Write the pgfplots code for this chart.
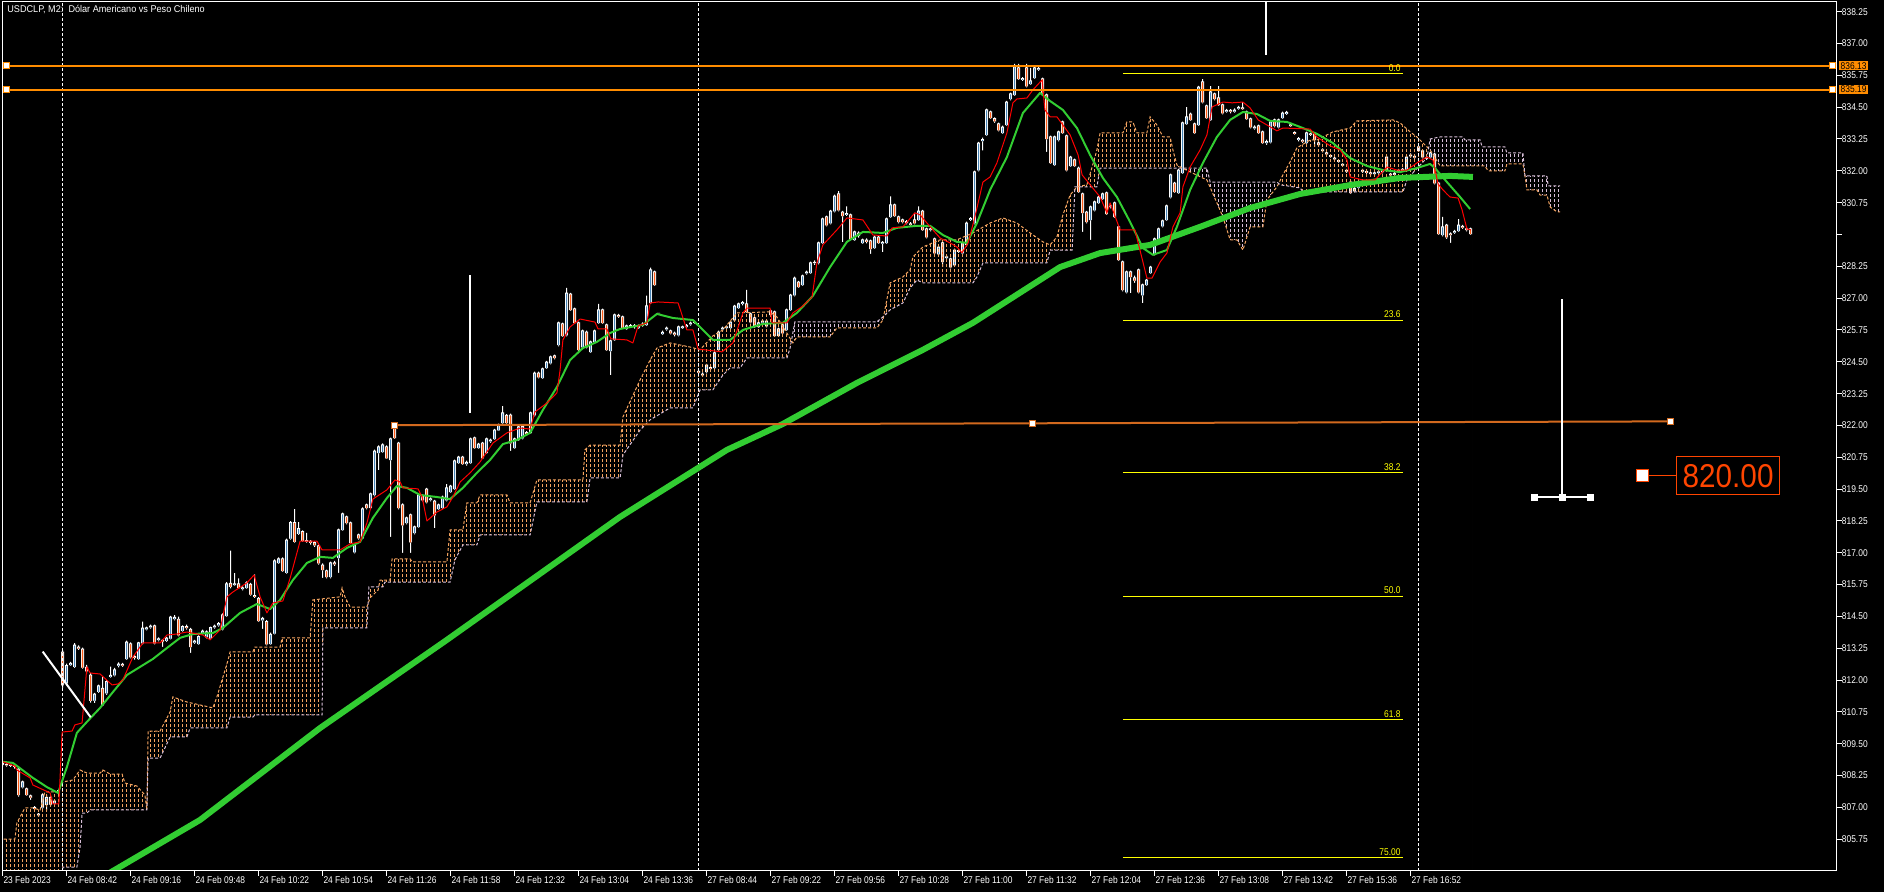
\documentclass[border=0pt]{standalone}
\usepackage{fontspec}
\setmainfont{Liberation Sans}[FakeStretch=0.86]
\newfontfamily\bigfont{Liberation Sans}[FakeStretch=0.9]
\newfontfamily\titlefont{Liberation Sans}[FakeStretch=0.93]
\usepackage{pgfplots}
\pgfplotsset{compat=1.18}
\usepackage{pgfplotstable}
\usetikzlibrary{patterns}
\definecolor{mtbull}{RGB}{70,130,180}
\definecolor{mtbear}{RGB}{255,90,20}
\definecolor{sandy}{RGB}{244,164,96}
\definecolor{thist}{RGB}{216,191,216}
\definecolor{limeg}{RGB}{50,205,50}
\definecolor{dorange}{RGB}{255,140,0}
\definecolor{choc}{RGB}{210,105,30}
\definecolor{ored}{RGB}{255,69,0}
\definecolor{fibyel}{RGB}{255,255,0}
\newcommand\mt{\fontsize{4.9}{5.5}\selectfont}
\pgfdeclarepatternformonly{mtcloud}{\pgfqpoint{-0.1pt}{-0.1pt}}{\pgfqpoint{2.1pt}{2.6pt}}{\pgfqpoint{2pt}{2.5pt}}{%
  \pgfsetlinewidth{0.5pt}%
  \pgfpathmoveto{\pgfqpoint{1pt}{0pt}}%
  \pgfpathlineto{\pgfqpoint{1pt}{1.5pt}}%
  \pgfusepath{stroke}%
}
\pgfplotstableread{
i o h l c
0 808.72 808.80 808.60 808.68
1 808.68 808.75 808.60 808.66
2 808.66 808.72 808.58 808.64
3 808.64 808.70 808.52 808.60
4 808.50 808.56 807.42 807.49
5 807.80 808.05 807.75 808.00
6 807.73 807.78 807.45 807.49
7 807.45 807.50 807.30 807.40
8 806.99 807.05 806.90 806.95
9 806.74 806.78 806.62 806.70
10 807.00 807.55 806.95 807.49
11 807.10 807.50 806.88 807.40
12 807.40 807.45 807.05 807.12
13 807.15 807.30 807.10 807.25
14 807.58 807.70 807.50 807.66
15 813.10 813.18 811.70 811.80
16 811.88 812.65 811.80 812.57
17 812.60 812.72 812.55 812.66
18 812.53 813.45 812.48 813.37
19 813.30 813.36 813.18 813.25
20 813.22 813.28 812.45 812.50
21 812.50 812.60 812.25 812.35
22 812.20 812.28 811.12 811.19
23 811.20 811.50 811.10 811.45
24 811.55 811.82 811.50 811.77
25 811.68 812.13 810.98 811.02
26 811.49 812.00 811.42 811.94
27 812.14 812.53 812.10 812.19
28 812.20 812.48 812.15 812.40
29 812.58 812.70 812.50 812.63
30 812.62 812.68 812.52 812.58
31 812.83 813.55 812.78 813.49
32 813.42 813.48 812.85 812.90
33 812.92 813.00 812.80 812.88
34 812.83 813.50 812.78 813.46
35 813.45 814.30 813.40 814.04
36 814.00 814.10 813.95 814.05
37 814.08 814.18 814.02 814.12
38 814.13 814.18 813.40 813.45
39 813.58 813.68 813.52 813.62
40 813.56 813.60 813.31 813.52
41 813.55 813.70 813.50 813.65
42 813.64 814.52 813.60 814.47
43 814.40 814.55 814.35 814.46
44 814.39 814.49 813.72 813.77
45 813.94 814.15 813.90 814.10
46 814.10 814.18 813.98 814.05
47 813.99 814.05 813.07 813.31
48 813.48 813.58 813.42 813.53
49 813.42 813.76 813.38 813.71
50 813.86 813.98 813.80 813.92
51 813.69 813.95 813.64 813.89
52 813.64 814.10 813.60 814.06
53 814.08 814.18 814.02 814.12
54 814.16 814.28 814.10 814.22
55 814.00 814.62 813.95 814.56
56 814.52 815.85 814.48 815.78
57 815.80 817.08 815.60 815.67
58 815.74 816.20 815.70 815.78
59 815.78 816.00 815.58 815.62
60 815.58 815.68 815.52 815.62
61 815.62 815.88 815.58 815.82
62 815.76 815.82 815.32 815.37
63 815.32 816.15 815.22 815.28
64 815.21 815.26 814.28 814.33
65 814.36 814.48 814.01 814.42
66 814.30 814.36 813.36 813.41
67 813.42 813.86 813.38 813.80
68 813.84 816.74 813.80 816.68
69 816.60 816.82 816.55 816.76
70 816.76 816.82 816.24 816.29
71 816.22 817.56 816.18 817.50
72 817.57 818.24 817.52 818.18
73 818.18 818.71 817.40 817.44
74 817.75 818.20 817.70 817.95
75 817.83 817.88 817.44 817.48
76 817.48 817.78 817.40 817.45
77 817.45 817.50 817.32 817.40
78 817.40 817.45 817.22 817.30
79 817.27 817.32 816.54 816.59
80 816.52 816.58 816.01 816.33
81 816.29 816.34 816.00 816.05
82 816.05 816.65 816.00 816.60
83 816.60 816.68 816.48 816.55
84 816.80 817.95 816.21 817.90
85 817.90 818.58 817.86 818.53
86 818.41 818.46 818.12 818.17
87 818.17 818.22 817.34 817.39
88 817.03 817.35 816.98 817.30
89 817.70 817.75 817.52 817.58
90 817.58 818.78 817.54 818.72
91 818.88 818.93 818.70 818.76
92 818.76 819.36 818.72 819.31
93 819.27 821.05 819.22 820.99
94 820.92 821.22 820.25 821.16
95 820.96 821.30 820.92 821.24
96 821.16 821.22 820.68 820.72
97 820.65 821.52 817.62 821.47
98 821.94 822.10 821.46 821.51
99 821.31 821.36 818.70 818.76
100 818.88 818.94 817.00 818.09
101 818.17 818.42 818.12 818.37
102 818.49 818.54 817.00 817.42
103 817.78 818.07 817.72 818.02
104 818.02 819.32 817.98 819.27
105 819.23 819.28 819.02 819.07
106 819.50 819.55 818.94 818.99
107 819.08 819.18 819.02 819.12
108 819.03 819.08 817.97 818.48
109 818.72 818.93 818.68 818.88
110 818.76 819.24 818.72 819.19
111 819.07 819.70 819.02 819.55
112 819.39 819.67 819.34 819.62
113 819.51 820.66 819.46 820.61
114 820.53 820.81 820.48 820.76
115 820.76 820.81 820.44 820.49
116 820.49 820.62 820.42 820.55
117 820.53 821.52 820.48 821.47
118 821.51 821.56 821.08 821.12
119 821.12 821.32 821.08 821.27
120 821.31 821.36 820.68 820.72
121 820.92 821.52 820.88 821.47
122 821.38 821.48 821.32 821.42
123 821.47 821.87 821.42 821.82
124 821.82 822.07 821.78 822.02
125 822.10 822.76 822.05 822.49
126 822.40 822.45 822.05 822.10
127 822.41 822.46 821.00 821.31
128 821.12 821.52 821.08 821.47
129 821.43 821.99 821.38 821.94
130 821.50 822.00 821.45 821.95
131 821.72 821.78 821.62 821.68
132 821.71 822.54 821.66 822.49
133 822.41 824.11 822.36 824.06
134 824.06 824.11 823.85 823.90
135 823.87 824.27 823.82 824.22
136 824.26 824.54 824.21 824.49
137 824.45 824.74 824.40 824.69
138 824.73 824.78 824.60 824.65
139 825.16 826.08 825.11 826.03
140 825.99 826.04 825.47 825.52
141 825.55 827.40 825.50 827.20
142 827.16 827.21 826.49 826.54
143 826.58 826.63 825.98 826.03
144 826.03 826.08 824.92 824.97
145 825.08 825.76 825.03 825.71
146 825.67 825.72 825.03 825.08
147 824.89 825.33 824.84 825.28
148 825.28 825.76 825.23 825.71
149 826.03 826.77 825.98 826.54
150 826.54 826.59 825.98 826.03
151 825.95 826.00 824.92 824.97
152 824.93 825.37 823.98 825.32
153 825.36 826.39 825.31 826.34
154 826.32 826.38 826.22 826.28
155 826.26 826.31 825.78 825.83
156 825.79 825.96 825.74 825.91
157 825.88 825.98 825.82 825.92
158 825.92 825.98 825.80 825.88
159 825.83 825.96 825.78 825.91
160 825.92 826.05 825.88 825.98
161 825.95 827.10 825.90 826.70
162 826.81 828.20 826.76 828.11
163 828.03 828.08 827.47 827.52
164 826.40 826.40 826.40 826.40
165 825.60 825.72 825.55 825.66
166 825.78 825.88 825.72 825.82
167 825.71 825.76 825.58 825.63
168 825.63 825.68 825.50 825.58
169 825.55 825.92 825.50 825.87
170 825.83 825.92 825.78 825.87
171 825.88 825.98 825.82 825.92
172 825.98 826.08 825.92 826.02
173 826.04 826.12 826.00 826.06
174 824.12 824.18 824.02 824.08
175 824.02 824.08 823.92 823.98
176 824.10 824.42 824.05 824.37
177 824.27 824.32 824.18 824.23
178 824.26 824.90 824.21 824.85
179 824.97 825.72 824.92 825.67
180 825.78 825.88 825.72 825.82
181 825.83 825.92 825.78 825.87
182 825.83 826.11 825.78 826.06
183 826.14 826.74 826.09 826.69
184 826.62 826.82 826.57 826.77
185 826.78 826.88 826.72 826.82
186 826.77 827.32 826.41 826.46
187 826.38 826.43 826.01 826.06
188 826.22 826.27 825.82 825.87
189 825.87 826.08 825.82 826.03
190 826.05 826.15 826.00 826.10
191 825.90 826.15 825.85 826.10
192 826.50 826.55 826.29 826.34
193 826.46 826.51 825.47 825.52
194 825.52 825.84 825.47 825.79
195 825.95 826.00 825.58 825.63
196 825.75 826.59 825.70 826.54
197 826.54 827.17 826.49 827.12
198 827.12 827.84 827.07 827.79
199 827.63 827.68 827.39 827.44
200 827.52 827.92 827.47 827.87
201 827.98 828.08 827.92 828.02
202 827.99 828.43 827.94 828.38
203 828.38 828.48 828.30 828.40
204 828.38 829.22 828.33 829.17
205 829.17 830.16 829.12 830.11
206 830.19 830.24 829.82 829.87
207 829.95 830.47 829.90 830.42
208 830.42 831.06 830.37 831.01
209 831.09 831.20 830.41 830.46
210 830.38 830.43 829.20 830.23
211 830.28 830.60 830.22 830.32
212 830.27 830.32 829.28 829.33
213 829.29 829.65 829.24 829.60
214 829.55 829.62 829.38 829.45
215 829.17 829.34 829.12 829.29
216 829.28 829.35 829.15 829.22
217 829.25 829.30 828.74 828.93
218 828.97 829.45 828.92 829.40
219 829.40 829.45 829.12 829.17
220 829.15 829.24 828.81 829.19
221 829.17 830.16 829.12 830.11
222 830.19 831.00 830.14 830.66
223 830.66 830.71 830.18 830.23
224 830.19 830.24 829.94 829.99
225 830.07 830.12 829.94 829.99
226 830.00 830.06 829.90 829.96
227 829.92 829.98 829.82 829.88
228 830.07 830.35 829.90 829.95
229 830.07 830.60 830.02 830.42
230 830.42 830.47 829.63 829.68
231 829.72 829.77 829.35 829.40
232 829.68 829.78 829.62 829.72
233 829.33 829.38 828.72 828.77
234 828.73 829.05 828.68 829.00
235 829.17 829.22 828.22 828.42
236 828.58 828.68 828.52 828.62
237 828.54 828.59 828.17 828.22
238 828.30 828.94 828.25 828.89
239 828.83 828.93 828.78 828.87
240 828.77 829.22 828.72 829.17
241 829.09 830.00 829.04 829.95
242 830.08 830.18 830.02 830.12
243 829.95 832.01 829.90 831.96
244 832.03 833.14 831.98 833.09
245 833.18 833.30 832.80 833.22
246 833.41 834.44 833.36 834.39
247 834.31 834.36 834.03 834.08
248 834.05 834.10 833.88 833.95
249 833.84 833.89 833.55 833.60
250 833.49 833.77 833.44 833.72
251 833.80 834.75 833.75 834.70
252 834.82 835.07 834.77 835.02
253 834.98 836.20 834.93 836.08
254 836.04 836.20 835.56 835.61
255 835.58 835.68 835.52 835.62
256 836.04 836.20 835.28 835.33
257 835.41 836.04 835.36 835.53
258 835.65 836.09 835.60 836.04
259 835.98 836.10 835.92 836.02
260 835.61 835.66 835.01 835.06
261 834.98 835.03 832.74 833.25
262 833.33 833.38 832.26 832.31
263 832.23 833.38 832.18 833.33
264 833.21 833.58 833.16 833.53
265 833.92 833.97 833.44 833.49
266 833.37 833.42 831.98 832.03
267 832.19 832.59 832.14 832.54
268 832.43 832.48 832.14 832.19
269 832.11 832.16 831.12 831.17
270 831.09 831.14 829.60 830.35
271 830.38 830.43 829.94 829.99
272 830.07 830.63 829.29 830.58
273 830.46 830.83 830.41 830.78
274 830.74 831.02 830.69 830.97
275 830.90 831.14 830.85 831.09
276 831.13 831.18 830.26 830.31
277 830.58 830.68 830.52 830.62
278 830.74 830.79 830.14 830.19
279 829.80 829.85 828.45 828.50
280 828.42 828.47 827.27 827.32
281 827.24 828.08 827.19 828.03
282 828.03 828.08 827.20 827.83
283 827.80 827.88 827.60 827.70
284 828.11 828.16 827.19 827.24
285 827.12 827.57 826.80 827.52
286 827.52 827.76 827.47 827.71
287 827.99 828.27 827.94 828.22
288 828.73 829.38 828.68 829.33
289 829.29 829.77 829.24 829.72
290 829.83 830.08 829.78 830.03
291 830.07 830.67 830.02 830.62
292 830.97 831.89 830.92 831.84
293 831.52 831.57 831.12 831.17
294 831.13 832.08 831.08 832.03
295 831.92 833.93 831.87 833.88
296 833.84 834.50 833.79 834.12
297 834.23 834.28 833.95 834.00
298 833.84 833.89 833.44 833.49
299 833.80 835.34 833.75 835.29
300 835.49 835.60 834.65 834.70
301 834.55 834.60 834.03 834.08
302 834.00 835.33 833.95 835.10
303 835.02 835.07 834.77 834.82
304 834.86 835.33 834.54 834.59
305 834.59 834.64 834.22 834.27
306 834.33 834.43 834.28 834.37
307 834.37 834.42 834.26 834.33
308 834.33 834.45 834.28 834.38
309 834.45 834.55 834.40 834.49
310 834.47 834.70 834.38 834.43
311 834.31 834.36 833.99 834.04
312 834.04 834.09 833.67 833.72
313 833.68 833.78 833.62 833.72
314 833.76 833.81 833.44 833.49
315 833.53 833.58 833.05 833.10
316 833.10 833.22 833.02 833.15
317 833.13 833.97 833.08 833.92
318 834.00 834.05 833.71 833.76
319 833.72 834.05 833.67 834.00
320 834.08 834.32 834.03 834.27
321 834.25 834.35 834.20 834.29
322 833.80 833.85 833.72 833.76
323 833.50 833.55 833.42 833.46
324 833.22 833.32 833.16 833.26
325 833.20 833.25 833.10 833.16
326 833.10 833.54 833.05 833.49
327 833.45 833.50 833.36 833.42
328 833.45 833.50 832.94 833.21
329 833.10 833.15 832.95 833.02
330 832.82 832.88 832.72 832.78
331 832.70 832.74 832.62 832.66
332 832.60 832.64 832.52 832.56
333 832.50 832.54 832.42 832.46
334 832.40 832.44 832.32 832.36
335 832.25 832.29 832.17 832.21
336 832.02 832.08 831.92 831.98
337 831.56 831.61 831.08 831.13
338 831.20 831.36 831.15 831.30
339 831.35 831.52 831.30 831.45
340 831.98 832.08 831.92 832.02
341 831.97 832.02 831.88 831.93
342 831.92 831.96 831.82 831.88
343 831.88 831.98 831.82 831.92
344 831.92 832.02 831.86 831.96
345 831.96 832.06 831.90 832.00
346 832.54 832.59 831.98 832.03
347 831.87 831.92 831.78 831.83
348 831.85 831.96 831.80 831.90
349 831.98 832.08 831.92 832.02
350 832.02 832.12 831.96 832.06
351 832.03 832.59 831.98 832.54
352 832.58 832.68 832.52 832.62
353 832.57 832.62 832.48 832.53
354 832.94 832.99 832.73 832.78
355 832.78 832.83 832.49 832.54
356 832.52 832.58 832.42 832.48
357 832.54 832.75 832.49 832.70
358 832.66 832.71 831.47 831.52
359 831.52 831.57 829.47 829.52
360 829.48 830.19 829.43 829.80
361 829.87 829.92 829.33 829.40
362 829.52 829.58 829.17 829.48
363 829.58 829.68 829.52 829.62
364 829.64 830.10 829.59 829.87
365 829.82 829.88 829.72 829.78
366 829.72 829.78 829.62 829.68
367 829.72 829.77 829.47 829.52
}\candles
\pgfplotsset{candlebar/.style={ybar, bar shift=0pt, draw=none, forget plot}}
\begin{document}
\begin{tikzpicture}
\useasboundingbox (0,0) rectangle (942pt,446pt);
\fill[black] (0,0) rectangle (942pt,446pt);
\begin{axis}[
  at={(1pt,445pt)}, anchor=north west,
  scale only axis, width=917.25pt, height=434.5pt,
  xmin=-0.125, xmax=458.5, ymin=804.5055, ymax=838.631,
  axis line style={white, line width=0.5pt},
  axis on top,
  clip mode=individual,
  tick align=outside, major tick length=2.5pt,
  xtick pos=left, ytick pos=right,
  tick style={white, line width=0.5pt},
  xtick={0,16,32,48,64,80,96,112,128,144,160,176,192,208,224,240,256,272,288,304,320,336,352},
  xticklabels={23 Feb 2023,24 Feb 08:42,24 Feb 09:16,24 Feb 09:48,24 Feb 10:22,24 Feb 10:54,24 Feb 11:26,24 Feb 11:58,24 Feb 12:32,24 Feb 13:04,24 Feb 13:36,27 Feb 08:44,27 Feb 09:22,27 Feb 09:56,27 Feb 10:28,27 Feb 11:00,27 Feb 11:32,27 Feb 12:04,27 Feb 12:36,27 Feb 13:08,27 Feb 13:42,27 Feb 15:36,27 Feb 16:52},
  ytick={805.75,807,808.25,809.5,810.75,812,813.25,814.5,815.75,817,818.25,819.5,820.75,822,823.25,824.5,825.75,827,828.25,829.5,830.75,832,833.25,834.5,835.75,837,838.25},
  yticklabels={805.75,807.00,808.25,809.50,810.75,812.00,813.25,814.50,815.75,817.00,818.25,819.50,820.75,822.00,823.25,824.50,825.75,827.00,828.25,{},830.75,832.00,833.25,834.50,835.75,837.00,838.25},
  ticklabel style={font=\mt, text=white},
  xticklabel style={anchor=north west, inner sep=0pt, xshift=0.3pt},
  yticklabel style={anchor=west, inner sep=0pt},
]
% --- candles (layered bars: upper wick, white body outline, black masks, fills, lower wick)
\addplot[candlebar, fill=white, bar width=0.5pt] table[x=i, y=h] {\candles};
\addplot[candlebar, fill=white, bar width=1.5pt] table[x=i, y expr={max(\thisrow{o},\thisrow{c})+0.0196}] {\candles};
\addplot[candlebar, fill=black, bar width=2pt] table[x=i, y expr={min(\thisrow{o},\thisrow{c})-0.0196}] {\candles};
\addplot[candlebar, fill=mtbull, bar width=0.5pt] table[x=i, y expr={max(\thisrow{o},\thisrow{c})-0.0196}] {\candles};
\addplot[candlebar, fill=mtbear, bar width=0.65pt] table[x=i, y expr={\thisrow{o}-0.0196-100*(\thisrow{c}>\thisrow{o})}] {\candles};
\addplot[candlebar, fill=black, bar width=2pt] table[x=i, y expr={min(\thisrow{o},\thisrow{c})-0.0196}] {\candles};
\addplot[candlebar, fill=white, bar width=0.5pt] table[x=i, y expr={min(\thisrow{o},\thisrow{c})-0.0196}] {\candles};
\addplot[candlebar, fill=black, bar width=2pt] table[x=i, y=l] {\candles};
% --- Ichimoku cloud hatch (polygons between Senkou A and Senkou B)
\addplot[pattern=mtcloud, pattern color=sandy, draw=none, forget plot] coordinates {
(-1,805.76) (3.1,805.76) (3.6,806.39) (5.6,806.98) (7.6,806.98) (9.4,806.90) (10.6,807.61) (13.9,807.61) (15.1,808.00) (17.6,808.08) (19.4,808.47) (21.1,808.35) (24.4,808.35) (25.1,808.47) (26.9,808.31) (29.9,808.31) (30.6,807.96) (33.6,807.84) (35.6,807.49) (36.1,806.90) (36.4,810.00) (39.4,810.00) (41.9,810.75) (42.6,811.34) (46.1,811.14) (52.6,810.91) (53.6,811.34) (56.4,812.79) (56.9,813.11) (62.6,813.11) (63.1,813.30) (69.4,813.30) (69.9,813.66) (76.9,813.66) (77.6,815.15) (84.4,815.27) (84.9,815.62) (85.6,815.27) (86.9,814.87) (91.1,814.87) (91.9,815.23) (93.9,815.54) (94.4,815.93) (96.9,815.93) (97.4,816.76) (101.9,816.76) (102.4,816.64) (111.1,816.64) (111.9,817.90) (115.1,817.90) (116.1,818.96) (118.6,818.96) (119.4,819.27) (126.1,819.27) (126.9,818.96) (131.9,818.96) (133.6,819.86) (145.1,819.86) (145.6,821.04) (146.9,821.23) (154.4,821.23) (155.1,822.33) (159.4,823.79) (161.9,824.57) (163.6,825.04) (166.9,825.24) (171.9,825.08) (174.4,824.97) (177.6,825.52) (180.1,825.75) (183.6,826.42) (191.9,826.46) (193.6,826.26) (195.6,825.75) (197.24,825.33)
(196.9,825.04) (196.1,824.65) (186.1,824.65) (184.4,824.26) (181.9,824.26) (180.1,823.98) (177.6,823.40) (174.4,823.40) (172.6,822.69) (166.9,822.69) (161.9,822.22) (159.4,821.82) (155.1,820.84) (154.4,819.94) (146.9,819.94) (146.1,819.00) (133.6,819.00) (131.9,817.70) (119.4,817.70) (118.6,817.31) (115.1,817.31) (113.1,816.72) (111.9,815.85) (95.6,815.85) (95.1,815.66) (91.6,815.66) (91.1,814.05) (80.1,814.05) (79.9,810.63) (63.1,810.63) (62.6,810.55) (56.9,810.55) (56.1,810.12) (46.9,810.12) (46.1,809.77) (41.9,809.77) (39.4,808.94) (36.4,808.94) (36.1,806.90) (21.9,806.90) (21.1,806.78) (19.9,806.78) (19.4,805.45) (18.6,804.66) (15.1,804.66) (14.9,804.15) (-1,804.15)};
\addplot[pattern=mtcloud, pattern color=thist, draw=none, forget plot] coordinates {
(197.24,825.33) (197.6,825.24) (198.6,825.48) (206.9,825.48) (208.6,825.83) (218.6,825.83) (220.1,826.14) (220.28,826.19)
(220.1,826.26) (218.6,826.07) (198.1,826.07)};
\addplot[pattern=mtcloud, pattern color=sandy, draw=none, forget plot] coordinates {
(220.28,826.19) (221.9,827.60) (225.1,827.83) (226.9,828.11) (227.6,828.62) (230.1,829.01) (234.4,829.29) (238.6,829.29) (242.6,829.56) (246.9,829.95) (250.1,830.15) (253.6,829.95) (256.9,829.56) (260.1,829.21) (261.9,829.09) (263.6,829.40) (265.1,830.27) (266.9,831.05) (268.6,831.37) (271.1,831.45) (272.4,832.15) (273.6,832.82) (274.4,833.49) (280.1,833.49) (281.1,833.92) (282.6,833.92) (283.6,833.49) (286.1,833.49) (286.9,834.12) (288.6,833.80) (290.1,833.33) (291.9,833.33) (292.6,832.82) (293.6,832.23) (294.9,832.11)
(274.4,832.11) (273.6,831.37) (268.1,831.37) (267.4,828.89) (261.9,828.89) (261.1,828.38) (245.1,828.38) (243.6,827.83) (242.6,827.60) (230.1,827.60) (228.6,827.71) (226.9,827.40) (225.1,826.81) (221.9,826.54)};
\addplot[pattern=mtcloud, pattern color=thist, draw=none, forget plot] coordinates {
(294.9,832.11) (301.1,831.64) (303.6,830.74) (305.1,830.19) (306.9,829.29) (308.6,829.29) (310.1,828.89) (311.9,829.80) (315.1,829.80) (316.1,830.86) (318.6,831.37) (319.02,831.50)
(318.6,831.56) (301.9,831.56) (301.1,832.11)};
\addplot[pattern=mtcloud, pattern color=sandy, draw=none, forget plot] coordinates {
(319.02,831.50) (320.1,831.84) (321.9,832.35) (323.6,832.90) (326.9,833.21) (328.6,833.21) (332.6,833.53) (336.9,833.68) (338.6,833.96) (347.6,834.00) (349.4,833.88) (351.9,833.53) (353.6,833.33) (356.1,832.94) (356.5,832.88)
(356.1,832.50) (354.4,832.23) (352.6,831.92) (351.1,831.64) (350.1,831.17) (325.1,831.17) (324.4,831.33) (319.4,831.45)};
\addplot[pattern=mtcloud, pattern color=thist, draw=none, forget plot] coordinates {
(356.5,832.88) (356.9,832.82) (359.4,832.19) (370.6,832.19) (371.4,832.00) (375.6,832.00) (376.1,832.27) (380.1,832.27) (380.6,831.84) (381.1,831.25) (383.6,831.25) (384.4,831.05) (386.1,831.05) (386.9,830.58) (388.6,830.39) (389.4,830.39)
(389.4,831.41) (386.4,831.41) (386.1,831.80) (380.6,831.80) (380.1,832.70) (376.1,832.70) (375.6,832.94) (369.9,832.94) (369.4,833.21) (365.6,833.21) (365.1,833.33) (359.4,833.33) (356.9,833.25)};
% --- cloud edges
\addplot[sandy, line width=0.5pt, dash pattern=on 1.5pt off 1pt, forget plot] coordinates {
(-1,805.76) (3.1,805.76) (3.6,806.39) (5.6,806.98) (7.6,806.98) (9.4,806.90) (10.6,807.61) (13.9,807.61) (15.1,808.00) (17.6,808.08) (19.4,808.47) (21.1,808.35) (24.4,808.35) (25.1,808.47) (26.9,808.31) (29.9,808.31) (30.6,807.96) (33.6,807.84) (35.6,807.49) (36.1,806.90) (36.4,810.00) (39.4,810.00) (41.9,810.75) (42.6,811.34) (46.1,811.14) (52.6,810.91) (53.6,811.34) (56.4,812.79) (56.9,813.11) (62.6,813.11) (63.1,813.30) (69.4,813.30) (69.9,813.66) (76.9,813.66) (77.6,815.15) (84.4,815.27) (84.9,815.62) (85.6,815.27) (86.9,814.87) (91.1,814.87) (91.9,815.23) (93.9,815.54) (94.4,815.93) (96.9,815.93) (97.4,816.76) (101.9,816.76) (102.4,816.64) (111.1,816.64) (111.9,817.90) (115.1,817.90) (116.1,818.96) (118.6,818.96) (119.4,819.27) (126.1,819.27) (126.9,818.96) (131.9,818.96) (133.6,819.86) (145.1,819.86) (145.6,821.04) (146.9,821.23) (154.4,821.23) (155.1,822.33) (159.4,823.79) (161.9,824.57) (163.6,825.04) (166.9,825.24) (171.9,825.08) (174.4,824.97) (177.6,825.52) (180.1,825.75) (183.6,826.42) (191.9,826.46) (193.6,826.26) (195.6,825.75) (197.6,825.24) (198.6,825.48) (206.9,825.48) (208.6,825.83) (218.6,825.83) (220.1,826.14) (221.9,827.60) (225.1,827.83) (226.9,828.11) (227.6,828.62) (230.1,829.01) (234.4,829.29) (238.6,829.29) (242.6,829.56) (246.9,829.95) (250.1,830.15) (253.6,829.95) (256.9,829.56) (260.1,829.21) (261.9,829.09) (263.6,829.40) (265.1,830.27) (266.9,831.05) (268.6,831.37) (271.1,831.45) (272.4,832.15) (273.6,832.82) (274.4,833.49) (280.1,833.49) (281.1,833.92) (282.6,833.92) (283.6,833.49) (286.1,833.49) (286.9,834.12) (288.6,833.80) (290.1,833.33) (291.9,833.33) (292.6,832.82) (293.6,832.23) (294.9,832.11) (301.1,831.64) (303.6,830.74) (305.1,830.19) (306.9,829.29) (308.6,829.29) (310.1,828.89) (311.9,829.80) (315.1,829.80) (316.1,830.86) (318.6,831.37) (320.1,831.84) (321.9,832.35) (323.6,832.90) (326.9,833.21) (328.6,833.21) (332.6,833.53) (336.9,833.68) (338.6,833.96) (347.6,834.00) (349.4,833.88) (351.9,833.53) (353.6,833.33) (356.1,832.94) (356.9,832.82) (359.4,832.19) (370.6,832.19) (371.4,832.00) (375.6,832.00) (376.1,832.27) (380.1,832.27) (380.6,831.84) (381.1,831.25) (383.6,831.25) (384.4,831.05) (386.1,831.05) (386.9,830.58) (388.6,830.39) (389.4,830.39)};
\addplot[thist, line width=0.5pt, dash pattern=on 1.5pt off 1pt, forget plot] coordinates {
(-1,804.15) (14.9,804.15) (15.1,804.66) (18.6,804.66) (19.4,805.45) (19.9,806.78) (21.1,806.78) (21.9,806.90) (36.1,806.90) (36.4,808.94) (39.4,808.94) (41.9,809.77) (46.1,809.77) (46.9,810.12) (56.1,810.12) (56.9,810.55) (62.6,810.55) (63.1,810.63) (79.9,810.63) (80.1,814.05) (91.1,814.05) (91.6,815.66) (95.1,815.66) (95.6,815.85) (111.9,815.85) (113.1,816.72) (115.1,817.31) (118.6,817.31) (119.4,817.70) (131.9,817.70) (133.6,819.00) (146.1,819.00) (146.9,819.94) (154.4,819.94) (155.1,820.84) (159.4,821.82) (161.9,822.22) (166.9,822.69) (172.6,822.69) (174.4,823.40) (177.6,823.40) (180.1,823.98) (181.9,824.26) (184.4,824.26) (186.1,824.65) (196.1,824.65) (196.9,825.04) (198.1,826.07) (218.6,826.07) (220.1,826.26) (221.9,826.54) (225.1,826.81) (226.9,827.40) (228.6,827.71) (230.1,827.60) (242.6,827.60) (243.6,827.83) (245.1,828.38) (261.1,828.38) (261.9,828.89) (267.4,828.89) (268.1,831.37) (273.6,831.37) (274.4,832.11) (301.1,832.11) (301.9,831.56) (318.6,831.56) (319.4,831.45) (324.4,831.33) (325.1,831.17) (350.1,831.17) (351.1,831.64) (352.6,831.92) (354.4,832.23) (356.1,832.50) (356.9,833.25) (359.4,833.33) (365.1,833.33) (365.6,833.21) (369.4,833.21) (369.9,832.94) (375.6,832.94) (376.1,832.70) (380.1,832.70) (380.6,831.80) (386.1,831.80) (386.4,831.41) (389.4,831.41)};
% --- period separators
\addplot[white, line width=0.5pt, dash pattern=on 1.5pt off 1pt, forget plot] coordinates {(15,804.5) (15,838.7)};
\addplot[white, line width=0.5pt, dash pattern=on 1.5pt off 1pt, forget plot] coordinates {(174,804.5) (174,838.7)};
\addplot[white, line width=0.5pt, dash pattern=on 1.5pt off 1pt, forget plot] coordinates {(354,804.5) (354,838.7)};
% --- thick moving average
\addplot[limeg, line width=3pt, line join=round, forget plot] coordinates {
(20,803.80) (28.1,804.55) (49.4,806.51) (79.4,810.12) (111.1,813.58) (154.4,818.41) (181.1,821.04) (195.1,822.06) (213.6,823.67) (230.1,824.97) (242.6,826.03) (264.4,828.22) (274.4,828.77) (286.9,829.09) (299.4,829.80) (311.9,830.54) (324.4,831.09) (336.9,831.44) (349.4,831.72) (361.9,831.80) (367.6,831.76)};
% --- thin moving average
\addplot[limeg, line width=1pt, line join=round, forget plot] coordinates {
(0.1,808.79) (2.6,808.75) (7.6,808.16) (11.1,807.80) (13.9,807.57) (16.1,808.59) (18.6,809.93) (21.1,810.36) (24.4,810.91) (27.6,811.53) (31.1,812.20) (34.4,812.52) (37.6,812.83) (41.1,813.26) (44.4,813.66) (47.6,813.81) (52.6,813.85) (55.1,814.05) (59.4,814.64) (63.6,814.99) (66.9,814.79) (69.4,815.15) (72.6,815.93) (76.1,816.60) (79.4,816.84) (82.6,816.80) (86.1,817.19) (89.4,817.43) (92.6,818.37) (96.1,819.15) (98.6,819.62) (101.1,819.55) (104.4,819.27) (108.6,819.19) (111.9,819.11) (115.1,819.55) (118.6,820.14) (121.9,820.65) (125.1,821.27) (128.6,821.43) (131.9,821.71) (135.1,822.61) (138.6,823.51) (141.9,824.57) (145.1,825.04) (148.6,825.28) (151.9,825.63) (154.4,825.79) (160.1,825.95) (163.6,826.38) (167.6,826.22) (172.6,826.14) (177.6,825.36) (181.9,825.36) (185.1,825.75) (190.1,825.99) (195.1,826.03) (198.6,826.42) (202.6,827.09) (206.9,828.22) (211.1,829.21) (215.1,829.60) (220.1,829.56) (223.6,829.76) (228.6,829.84) (231.9,829.84) (235.1,829.48) (238.6,829.21) (241.1,829.17) (243.6,829.95) (246.9,831.25) (251.1,832.54) (255.1,834.27) (259.4,835.06) (261.9,834.74) (265.1,834.39) (268.6,833.68) (271.9,832.62) (275.1,831.72) (278.6,830.97) (281.9,829.99) (285.1,828.97) (287.6,828.70) (291.1,828.89) (293.6,829.80) (296.9,831.25) (300.1,832.31) (303.6,833.33) (306.9,834.00) (310.1,834.31) (313.6,834.23) (316.9,833.96) (321.1,833.92) (325.1,833.68) (328.6,833.45) (332.6,833.09) (336.9,832.50) (341.1,832.19) (345.1,832.03) (349.4,831.95) (353.6,832.11) (356.9,832.27) (358.1,832.11) (361.1,831.56) (364.4,830.97) (366.9,830.50)};
% --- Tenkan-sen (red)
\addplot[red, line width=0.5pt, line join=round, forget plot] coordinates {
(0.1,808.79) (3.1,808.63) (3.6,808.47) (6.9,808.16) (7.6,807.88) (11.9,807.57) (12.6,807.14) (14.1,807.14) (14.9,809.96) (17.4,810.00) (18.1,810.24) (19.9,810.32) (21.1,812.52) (21.9,812.28) (24.4,812.24) (27.4,811.81) (28.9,811.85) (30.1,812.01) (32.6,812.91) (35.1,813.46) (39.4,813.46) (41.1,813.77) (43.6,813.81) (46.1,813.89) (50.1,813.77) (51.9,813.58) (54.4,813.97) (56.1,815.27) (57.6,815.46) (61.1,815.82) (62.9,816.13) (64.4,815.27) (66.1,814.64) (67.6,815.03) (70.1,815.11) (71.9,816.00) (74.4,817.46) (78.6,817.46) (79.9,817.11) (84.4,817.11) (86.9,817.35) (89.4,817.43) (91.1,818.17) (92.6,819.11) (96.1,819.47) (98.1,819.86) (99.4,819.78) (100.1,819.55) (103.9,819.51) (104.9,819.19) (106.1,818.25) (108.6,818.60) (111.1,818.80) (112.6,819.19) (114.4,819.78) (116.9,820.14) (119.4,820.57) (122.6,821.31) (126.1,821.71) (129.4,821.90) (131.9,821.86) (133.1,822.53) (136.1,822.88) (138.6,823.28) (139.4,824.18) (140.1,825.36) (141.9,825.87) (144.4,826.18) (148.1,826.06) (148.9,825.79) (151.1,825.79) (152.1,825.40) (156.1,825.36) (157.6,825.24) (158.9,825.91) (161.1,826.03) (161.9,826.81) (163.9,826.85) (168.9,826.81) (171.1,825.75) (172.6,825.75) (173.9,825.00) (179.9,824.89) (182.6,825.24) (185.1,826.42) (186.1,826.61) (191.9,826.61) (192.4,826.03) (196.1,826.03) (197.6,826.42) (200.1,826.69) (202.4,827.05) (203.6,828.38) (205.1,829.09) (208.6,829.68) (211.1,830.15) (215.1,830.07) (217.6,829.48) (221.1,829.44) (222.4,829.76) (225.1,829.80) (228.1,830.35) (229.4,830.27) (231.1,829.95) (232.6,829.68) (234.4,829.36) (236.9,829.17) (238.6,829.01) (239.9,828.78) (241.4,829.17) (243.1,830.19) (245.1,831.56) (246.9,831.76) (248.6,832.31) (251.1,833.49) (252.6,834.67) (253.6,834.82) (256.1,834.86) (257.6,835.18) (259.9,835.57) (260.6,834.39) (261.9,834.12) (263.6,834.12) (266.9,833.41) (268.9,832.62) (269.9,831.84) (274.4,830.97) (276.1,830.35) (276.9,830.74) (279.4,829.68) (283.1,829.68) (286.1,827.79) (287.4,827.79) (289.4,828.42) (291.1,828.77) (292.6,829.80) (294.4,830.35) (295.1,831.37) (296.9,832.15) (299.4,832.82) (301.1,833.41) (302.4,834.51) (305.1,834.70) (307.4,834.67) (310.1,834.70) (311.9,834.47) (313.9,834.00) (316.1,833.80) (318.6,833.57) (320.1,833.68) (326.9,833.64) (328.6,833.33) (331.9,832.98) (334.4,832.82) (336.1,832.43) (336.9,831.76) (340.1,831.64) (343.1,831.64) (346.1,832.15) (348.6,832.03) (351.1,832.03) (353.6,832.31) (356.1,832.54) (357.6,832.43) (358.9,831.48) (359.9,831.29) (361.1,831.09) (361.9,830.97) (363.9,830.93) (364.9,830.46) (366.1,829.72) (367.1,829.68)};
% --- horizontal orange levels
\addplot[dorange, line width=1pt, forget plot] coordinates {(-0.125,836.13) (458.5,836.13)};
\addplot[dorange, line width=1pt, forget plot] coordinates {(-0.125,835.19) (458.5,835.19)};
% --- chocolate trend line
\addplot[choc, line width=1pt, forget plot] coordinates {(97.9,822.01) (416.9,822.16)};
% --- Fibonacci levels
\addplot[fibyel, line width=0.5pt, forget plot] coordinates {(280.1,835.83) (350.05,835.83)};
\addplot[fibyel, line width=0.5pt, forget plot] coordinates {(280.1,826.14) (350.05,826.14)};
\addplot[fibyel, line width=0.5pt, forget plot] coordinates {(280.1,820.145) (350.05,820.145)};
\addplot[fibyel, line width=0.5pt, forget plot] coordinates {(280.1,815.30) (350.05,815.30)};
\addplot[fibyel, line width=0.5pt, forget plot] coordinates {(280.1,810.455) (350.05,810.455)};
\addplot[fibyel, line width=0.5pt, forget plot] coordinates {(280.1,805.035) (350.05,805.035)};
% --- white drawing objects
\addplot[white, line width=1pt, forget plot] coordinates {(116.9,822.49) (116.9,827.91)};
\addplot[white, line width=1pt, forget plot] coordinates {(315.8,836.55) (315.8,838.7)};
\addplot[white, line width=1pt, forget plot] coordinates {(389.9,819.19) (389.9,826.97)};
\addplot[white, line width=1pt, forget plot] coordinates {(382.9,819.19) (396.9,819.19)};
\addplot[white, line width=1pt, forget plot] coordinates {(10.05,813.12) (22.05,810.54)};
\addplot[ored, line width=0.5pt, forget plot] coordinates {(411.4,820.02) (418.4,820.02)};
% --- annotations
\node[fill=white, minimum size=3.5pt, inner sep=0pt] at (axis cs:382.9,819.19) {};
\node[fill=white, minimum size=3.5pt, inner sep=0pt] at (axis cs:389.9,819.19) {};
\node[fill=white, minimum size=3.5pt, inner sep=0pt] at (axis cs:396.9,819.19) {};
\node[draw=dorange, fill=white, line width=0.5pt, minimum size=3pt, inner sep=0pt] at (axis cs:0.95,836.13) {};
\node[draw=dorange, fill=white, line width=0.5pt, minimum size=3pt, inner sep=0pt] at (axis cs:0.95,835.19) {};
\node[draw=dorange, fill=white, line width=0.5pt, minimum size=3pt, inner sep=0pt] at (axis cs:457.4,836.13) {};
\node[draw=dorange, fill=white, line width=0.5pt, minimum size=3pt, inner sep=0pt] at (axis cs:457.4,835.19) {};
\node[draw=choc, fill=white, line width=0.5pt, minimum size=3pt, inner sep=0pt] at (axis cs:97.9,822.01) {};
\node[draw=choc, fill=white, line width=0.5pt, minimum size=3pt, inner sep=0pt] at (axis cs:257.4,822.09) {};
\node[draw=choc, fill=white, line width=0.5pt, minimum size=3pt, inner sep=0pt] at (axis cs:416.9,822.16) {};
\node[draw=ored, fill=white, line width=0.5pt, minimum size=6pt, inner sep=0pt] at (axis cs:409.9,820.02) {};
\node[draw=ored, fill=black, line width=0.5pt, text=ored, minimum width=51.5pt, minimum height=19pt, inner sep=0pt, anchor=west,
  font=\bigfont\fontsize{16.5}{17}\selectfont] at (axis cs:418.4,820.02) {820.00};
\node[fill=dorange, text=black, font=\mt, inner xsep=0.7pt, inner ysep=0.6pt, anchor=west] at (axis cs:458.5,836.13) [xshift=1.2pt] {836.13};
\node[fill=dorange, text=black, font=\mt, inner xsep=0.7pt, inner ysep=0.6pt, anchor=west] at (axis cs:458.5,835.19) [xshift=1.2pt] {835.19};
\node[text=fibyel, font=\mt, inner sep=0pt, anchor=south east] at (axis cs:349.6,835.83) [yshift=0.8pt] {0.0};
\node[text=fibyel, font=\mt, inner sep=0pt, anchor=south east] at (axis cs:349.6,826.14) [yshift=0.8pt] {23.6};
\node[text=fibyel, font=\mt, inner sep=0pt, anchor=south east] at (axis cs:349.6,820.145) [yshift=0.8pt] {38.2};
\node[text=fibyel, font=\mt, inner sep=0pt, anchor=south east] at (axis cs:349.6,815.30) [yshift=0.8pt] {50.0};
\node[text=fibyel, font=\mt, inner sep=0pt, anchor=south east] at (axis cs:349.6,810.455) [yshift=0.8pt] {61.8};
\node[text=fibyel, font=\mt, inner sep=0pt, anchor=south east] at (axis cs:349.6,805.035) [yshift=0.8pt] {75.00};
\end{axis}
\node[anchor=base west, inner sep=0pt, text=white, font=\titlefont\fontsize{4.9}{5.5}\selectfont] at (3.5pt,439.5pt) {USDCLP, M2:\ \ Dólar Americano vs Peso Chileno};
\end{tikzpicture}
\end{document}
